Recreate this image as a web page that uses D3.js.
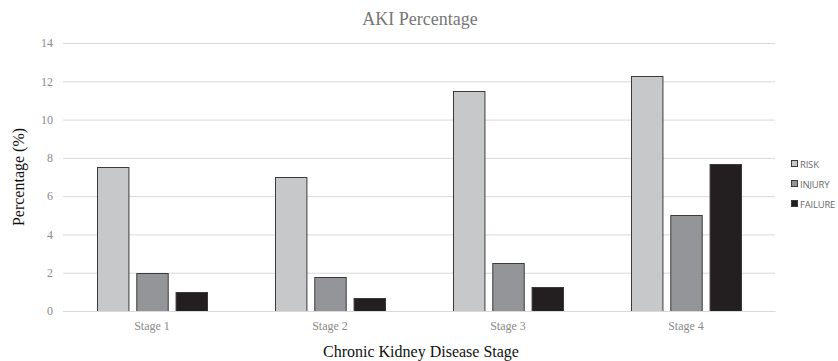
<!DOCTYPE html>
<html lang="en">
<head>
<meta charset="UTF-8">
<title>AKI Percentage</title>
<script src="https://d3js.org/d3.v7.min.js"></script>
<style>
    body { margin: 0; background: #fff; }
    .grid line { stroke: #d9d9d9; }
    .tick text { font-family: "Liberation Serif", serif; fill: #8a8a8a; font-size: 12px; }
</style>
</head>
<body>
<div id="chart"></div>
<script>
    // data
    var stages = ["Stage 1", "Stage 2", "Stage 3", "Stage 4"];
    var seriesNames = ["RISK", "INJURY", "FAILURE"];
    var risk = [7.5, 7.0, 11.5, 12.3];
    var injury = [2.0, 1.8, 2.5, 5.0];
    var failure = [1.0, 0.7, 1.25, 7.7];
    var yTicks = [0, 2, 4, 6, 8, 10, 12, 14];

    var seriesValues = [risk, injury, failure];
    var colors = ["#c7c8ca", "#939598", "#231f20"];

    var width = 838, height = 361;
    var margin = {top: 43, right: 63, bottom: 50, left: 63};
    var plotW = 775 - margin.left, plotH = 311 - margin.top;

    var svg = d3.select("#chart").append("svg")
        .attr("width", width)
        .attr("height", height);

    var g = svg.append("g")
        .attr("transform", "translate(" + margin.left + "," + margin.top + ")");

    var x = d3.scaleBand().domain(stages).range([0, plotW]).paddingInner(0).paddingOuter(0);
    var x1 = d3.scaleBand().domain(seriesNames).range([34, x.bandwidth() - 34]).paddingInner(0.2);
    var y = d3.scaleLinear().domain([0, 14]).range([plotH, 0]);

    /* gridlines + y axis labels */
    g.append("g")
        .attr("class", "grid")
        .call(d3.axisLeft(y).tickValues(yTicks).tickSize(-plotW).tickPadding(10))
        .call(function(a) { a.select(".domain").remove(); })
        .selectAll(".tick line").attr("stroke", "#d9d9d9");

    var groups = g.selectAll(".stage")
        .data(stages)
        .enter().append("g")
        .attr("class", "stage")
        .attr("transform", function(d) { return "translate(" + x(d) + ",0)"; });

    groups.selectAll("rect")
        .data(function(d, i) {
            return seriesNames.map(function(s, j) { return {s: s, j: j, v: seriesValues[j][i]}; });
        })
        .enter().append("rect")
        .attr("x", function(d) { return x1(d.s) + 0.5; })
        .attr("y", function(d) { return Math.round(y(d.v)) + 0.5; })
        .attr("width", x1.bandwidth())
        .attr("height", function(d) { return plotH - Math.round(y(d.v)); })
        .attr("fill", function(d) { return colors[d.j]; })
        .attr("stroke", "#3a3a3a")
        .attr("stroke-width", 1);

    /* x axis */
    g.append("g")
        .attr("transform", "translate(0," + plotH + ")")
        .call(d3.axisBottom(x).tickSize(0).tickPadding(10))
        .call(function(a) { a.select(".domain").attr("stroke", "#d9d9d9"); });

    /* titles */
    svg.append("text")
        .attr("x", 420).attr("y", 25)
        .attr("text-anchor", "middle")
        .attr("font-family", "Liberation Serif, serif")
        .attr("font-size", 18)
        .attr("fill", "#767676")
        .text("AKI Percentage");

    svg.append("text")
        .attr("transform", "translate(24,177) rotate(-90)")
        .attr("text-anchor", "middle")
        .attr("font-family", "Liberation Serif, serif")
        .attr("font-size", 16)
        .attr("fill", "#111")
        .text("Percentage (%)");

    svg.append("text")
        .attr("x", 421).attr("y", 357)
        .attr("text-anchor", "middle")
        .attr("font-family", "Liberation Serif, serif")
        .attr("font-size", 16)
        .attr("fill", "#111")
        .text("Chronic Kidney Disease Stage");

    /* legend */
    var legend = svg.append("g").attr("transform", "translate(791,160)");
    var item = legend.selectAll("g")
        .data(seriesNames)
        .enter().append("g")
        .attr("transform", function(d, i) { return "translate(0," + (i * 20) + ")"; });
    item.append("rect")
        .attr("x", 0.5).attr("y", 0.5)
        .attr("width", 6).attr("height", 6)
        .attr("fill", function(d, i) { return colors[i]; })
        .attr("stroke", "#3a3a3a");
    item.append("text")
        .attr("x", 9).attr("y", 7.5)
        .attr("font-family", "Open Sans, sans-serif")
        .attr("font-size", 9.5)
        .attr("letter-spacing", -0.2)
        .attr("fill", "#6b6b6b")
        .text(function(d) { return d; });
</script>
</body>
</html>
